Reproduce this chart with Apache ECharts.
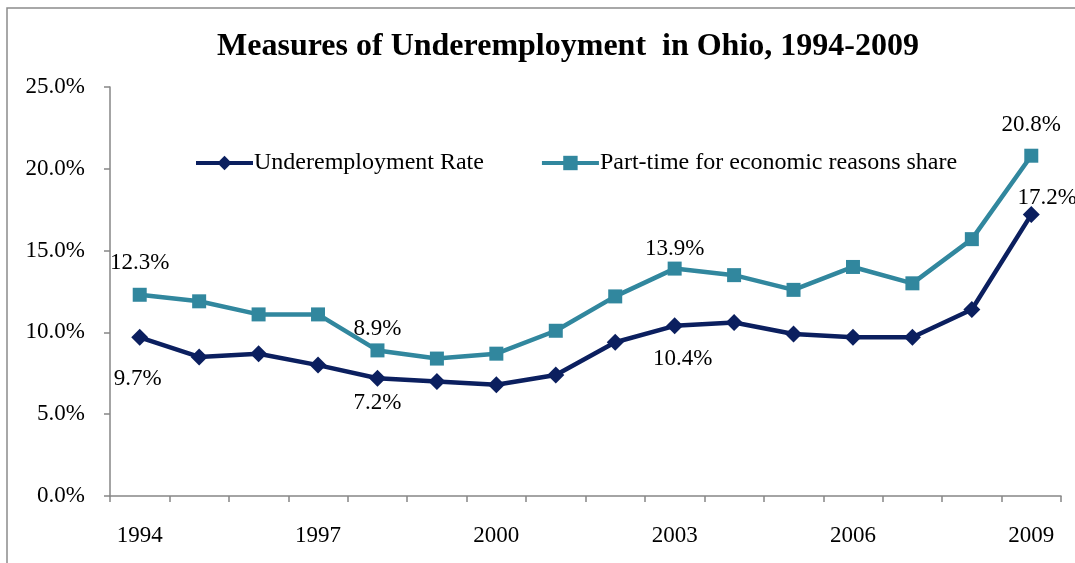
<!DOCTYPE html>
<html>
<head>
<meta charset="utf-8">
<script src="https://cdn.jsdelivr.net/npm/echarts@6/dist/echarts.min.js"></script>
<style>
  html, body { margin: 0; padding: 0; background: #ffffff; }
  #chart { width: 1075px; height: 563px; }
</style>
</head>
<body>
<div id="chart"></div>
<script>
// Years on the category axis
const years = ['1994','1995','1996','1997','1998','1999','2000','2001','2002','2003','2004','2005','2006','2007','2008','2009'];

// Percent values per year
const underemploymentRate = [9.7, 8.5, 8.7, 8.0, 7.2, 7.0, 6.8, 7.4, 9.4, 10.4, 10.6, 9.9, 9.7, 9.7, 11.4, 17.2];
const partTimeShare      = [12.3, 11.9, 11.1, 11.1, 8.9, 8.4, 8.7, 10.1, 12.2, 13.9, 13.5, 12.6, 14.0, 13.0, 15.7, 20.8];

const seriesNames = ['Underemployment Rate', 'Part-time for economic reasons share'];
const yTicks = [0, 5, 10, 15, 20, 25];

const FONT = '"Liberation Serif", "Times New Roman", serif';

// Which points carry a value label, and where it sits relative to the marker
const underLabelStyle = {
  0:  { position: 'bottom', offset: [-2, 17] },
  4:  { position: 'bottom', offset: [0, 0] },
  9:  { position: 'bottom', offset: [8, 8] },
  15: { position: 'top', offset: [16, 8] }
};
const partLabelStyle = {
  0:  { position: 'top', offset: [0, -8] },
  4:  { position: 'top', offset: [0, 2] },
  9:  { position: 'top', offset: [0, 4] },
  15: { position: 'top', offset: [0, -7] }
};

function withLabels(values, styles) {
  return values.map((v, i) => {
    const s = styles[i];
    if (!s) return { value: v };
    return {
      value: v,
      label: {
        show: true,
        position: s.position,
        offset: s.offset,
        formatter: (p) => p.value.toFixed(1) + '%'
      }
    };
  });
}

const chart = echarts.init(document.getElementById('chart'), null, { renderer: 'canvas' });

chart.setOption({
  animation: false,
  backgroundColor: '#ffffff',
  title: {
    text: 'Measures of Underemployment  in Ohio, 1994-2009',
    left: 563,
    textAlign: 'center',
    top: 26,
    textStyle: { fontFamily: FONT, fontSize: 32, fontWeight: 'bold', color: '#000000' }
  },
  graphic: [{
    type: 'rect',
    shape: { x: 7, y: 8, width: 1100, height: 600 },
    style: { fill: 'none', stroke: '#8c8c8c', lineWidth: 1.5 },
    silent: true,
    z: -1
  }],
  legend: {
    left: 189,
    top: 146,
    itemWidth: 57,
    itemHeight: 18,
    itemGap: 56,
    lineStyle: { width: 4 },
    textStyle: { fontFamily: FONT, fontSize: 24, color: '#000000', padding: [0, 0, 0, -4] },
    data: seriesNames
  },
  grid: { left: 110, right: 14, top: 87, bottom: 67, containLabel: false },
  xAxis: {
    type: 'category',
    data: years,
    boundaryGap: true,
    axisLine: { lineStyle: { color: '#868686', width: 1.5 } },
    axisTick: { show: true, interval: 0, length: 6, lineStyle: { color: '#868686', width: 1.5 } },
    axisLabel: {
      interval: 2,
      margin: 28,
      fontFamily: FONT, fontSize: 23, color: '#000000'
    },
    splitLine: { show: false }
  },
  yAxis: {
    type: 'value',
    min: yTicks[0],
    max: yTicks[yTicks.length - 1],
    interval: yTicks[1] - yTicks[0],
    axisLine: { show: true, lineStyle: { color: '#868686', width: 1.5 } },
    axisTick: { show: true, length: 6, lineStyle: { color: '#868686', width: 1.5 } },
    axisLabel: {
      margin: 25,
      fontFamily: FONT, fontSize: 23, color: '#000000',
      formatter: (v) => v.toFixed(1) + '%'
    },
    splitLine: { show: false }
  },
  series: [
    {
      name: seriesNames[0],
      type: 'line',
      data: withLabels(underemploymentRate, underLabelStyle),
      symbol: 'diamond',
      symbolSize: 17,
      lineStyle: { color: '#0b1f5f', width: 4.5 },
      itemStyle: { color: '#0b1f5f' },
      label: { show: false, fontFamily: FONT, fontSize: 23, color: '#000000' },
      z: 3
    },
    {
      name: seriesNames[1],
      type: 'line',
      data: withLabels(partTimeShare, partLabelStyle),
      symbol: 'rect',
      symbolSize: 14,
      lineStyle: { color: '#31879e', width: 4.5 },
      itemStyle: { color: '#31879e' },
      label: { show: false, fontFamily: FONT, fontSize: 23, color: '#000000' },
      z: 2
    }
  ]
});
</script>
</body>
</html>
